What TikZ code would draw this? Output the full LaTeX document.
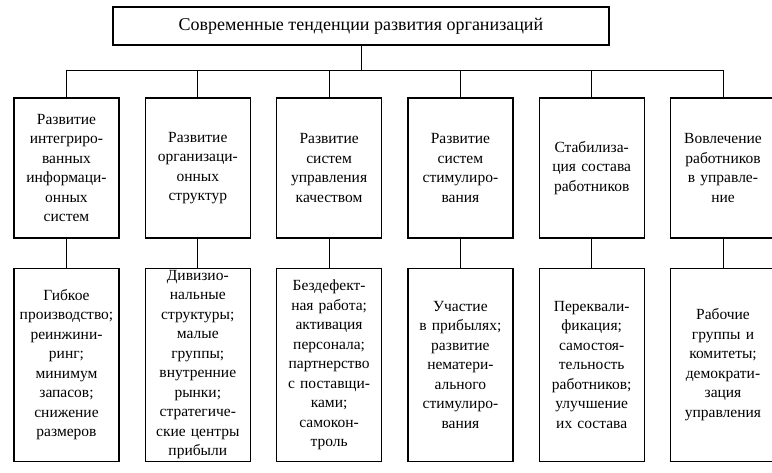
\documentclass[tikz,border=0pt]{standalone}
\usepackage{fontspec}
\setmainfont{Liberation Serif}
\usetikzlibrary{positioning}
\tikzset{
  trendbox/.style={draw=black, line width=1.3pt, align=center, minimum width=105pt,
    text width=102pt, font=\fontsize{15.5}{19.5}\selectfont, inner sep=0pt},
  topbox/.style={trendbox, minimum height=140pt},
  lowbox/.style={trendbox, minimum height=193pt},
}
\begin{document}
\begin{tikzpicture}[x=1pt, y=1pt, node distance=25pt and 25pt]
  \useasboundingbox (0,0) rectangle (772,-473);
  % title
  \node[draw=black, line width=1.3pt, minimum width=496pt, minimum height=38pt,
    font=\fontsize{18}{20}\selectfont](Title) at (361,-26){Современные тенденции развития организаций};

  % top row
  \node[topbox](TopA) at (66.5,-168){Развитие\\интегриро-\\ванных\\информаци-\\онных\\систем};
  \node[topbox, right=of TopA](TopB){Развитие\\организаци-\\онных\\структур};
  \node[topbox, right=of TopB](TopC){Развитие\\систем\\управления\\качеством};
  \node[topbox, right=of TopC](TopD){Развитие\\систем\\стимулиро-\\вания};
  \node[topbox, right=of TopD](TopE){Стабилиза-\\ция состава\\работников};
  \node[topbox, right=of TopE](TopF){Вовлечение\\работников\\в управле-\\ние};

  % bottom row
  \node[lowbox, below=29pt of TopA](LowA){Гибкое\\производство;\\реинжини-\\ринг;\\минимум\\запасов;\\снижение\\размеров};
  \node[lowbox, below=29pt of TopB](LowB){Дивизио-\\нальные\\структуры;\\малые\\группы;\\внутренние\\рынки;\\стратегиче-\\ские центры\\прибыли};
  \node[lowbox, below=29pt of TopC](LowC){Бездефект-\\ная работа;\\активация\\персонала;\\партнерство\\с поставщи-\\ками;\\самокон-\\троль};
  \node[lowbox, below=29pt of TopD](LowD){Участие\\в прибылях;\\развитие\\нематери-\\ального\\стимулиро-\\вания};
  \node[lowbox, below=29pt of TopE](LowE){Переквали-\\фикация;\\самостоя-\\тельность\\работников;\\улучшение\\их состава};
  \node[lowbox, below=29pt of TopF](LowF){Рабочие\\группы и\\комитеты;\\демократи-\\зация\\управления};

  % connectors
  \draw[line width=0.8pt] (Title.south) -- ++(0,-25) coordinate (Bus);
  \foreach \col in {A,B,C,D,E,F}{
    \draw[line width=0.8pt] (Top\col.north) |- (Bus);
    \draw[line width=0.8pt] (Top\col.south) -- (Low\col.north);
  }
\end{tikzpicture}
\end{document}
